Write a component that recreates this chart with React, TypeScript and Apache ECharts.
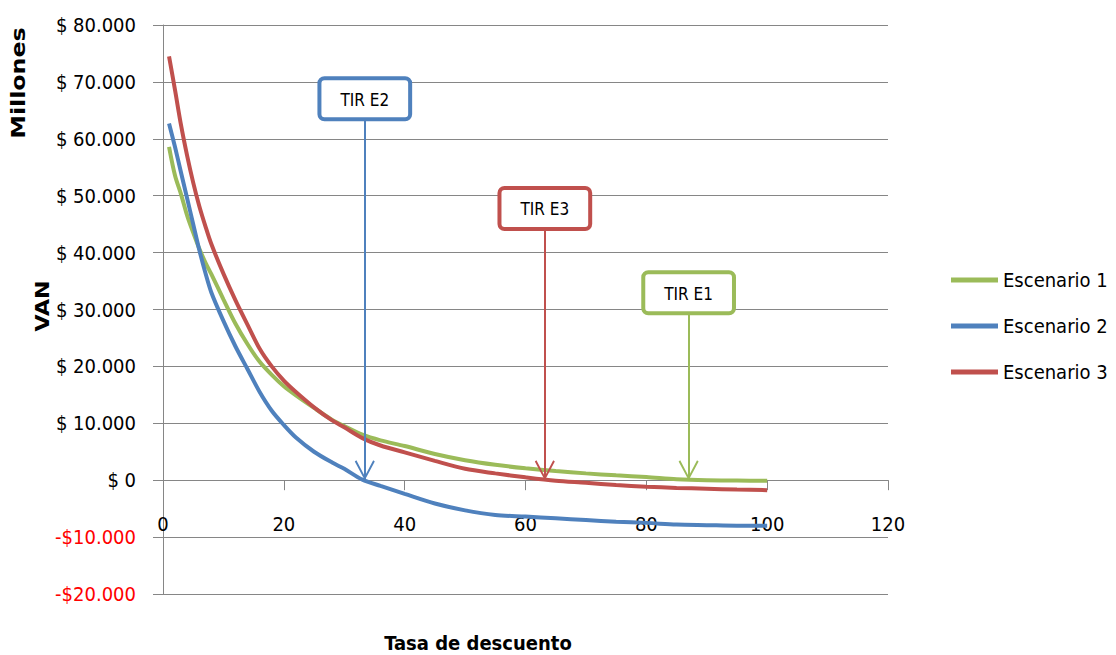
import React, { useEffect, useRef } from "react";
import * as echarts from "echarts";

const rates = [1, 2, 3, 4, 5, 6, 7, 8, 10, 12, 14, 16, 18, 20, 22, 25, 28, 30, 33, 36, 40, 45, 50, 55, 60, 65, 70, 75, 80, 85, 90, 95, 100];
const escenario1 = [58600, 53500, 50200, 46500, 43500, 40700, 38300, 36200, 31800, 27500, 23900, 20800, 18500, 16500, 14900, 12700, 10600, 9500, 8000, 7000, 6000, 4600, 3500, 2700, 2100, 1600, 1200, 850, 550, 150, -30, -70, -100];
const escenario2 = [62700, 58500, 54000, 49500, 45000, 40500, 36500, 33000, 28000, 23500, 19500, 15500, 12200, 9700, 7500, 5000, 3100, 2000, 100, -1000, -2400, -4100, -5300, -6100, -6400, -6700, -7000, -7300, -7500, -7800, -7900, -8000, -8000];
const escenario3 = [74500, 68500, 62300, 57000, 52300, 48200, 44700, 41500, 36300, 31600, 27300, 23100, 20000, 17500, 15500, 12800, 10500, 9300, 7400, 6100, 4900, 3400, 2000, 1200, 500, -100, -450, -850, -1150, -1350, -1500, -1650, -1750];

const seriesNames = ["Escenario 1", "Escenario 2", "Escenario 3"];
const seriesColors = ["#9BBB59", "#4F81BD", "#C0504D"];
const tirLabels = ["TIR E1", "TIR E2", "TIR E3"];
const tirRates = [87, 33.4, 63.2];
const tirLabelBase = [29700, 63800, 44500];

const xMin = 0, xMax = 120, xStep = 20;
const yMin = -20000, yMax = 80000, yStep = 10000;

const FONT = "'Liberation Sans Narrow', 'DejaVu Sans Condensed', 'Open Sans', sans-serif";
const BOLD = "'DejaVu Sans', 'Liberation Sans', Arial, sans-serif";
const CHEVRON = "path://M10,-16 L10,-16 Z M10,0 L20,15 L18.4,16 L10,3.2 L1.6,16 L0,15 Z";

function fmtMoney(v: number) {
  const abs = Math.abs(v).toString().replace(/\B(?=(\d{3})+(?!\d))/g, ".");
  return v < 0 ? `-$${abs}` : `$ ${abs}`;
}

export default function App() {
  const ref = useRef<HTMLDivElement>(null);
  useEffect(() => {
    if (!ref.current) return;
    const chart = echarts.init(ref.current, undefined, { renderer: "svg" });
    const all = [escenario1, escenario2, escenario3];
    chart.setOption({
      animation: false,
      backgroundColor: "#ffffff",
      grid: { left: 163, right: 228, top: 25, bottom: 61, containLabel: false },
      legend: {
        orient: "vertical",
        left: 946,
        top: 264,
        padding: 5,
        icon: "rect",
        itemWidth: 47,
        itemHeight: 5,
        itemGap: 24,
        textStyle: { fontFamily: FONT, fontSize: 20, color: "#000", lineHeight: 22 },
        data: seriesNames,
      },
      xAxis: {
        type: "value",
        min: xMin,
        max: xMax,
        interval: xStep,
        axisLine: { onZero: true, lineStyle: { color: "#868686", width: 1 } },
        axisTick: { show: true, length: 10, inside: false, lineStyle: { color: "#868686" } },
        axisLabel: { margin: -80, fontFamily: FONT, fontSize: 20, color: "#000" },
        splitLine: { show: false },
      },
      yAxis: {
        type: "value",
        min: yMin,
        max: yMax,
        interval: yStep,
        axisLine: { show: true, onZero: false, lineStyle: { color: "#868686", width: 1 } },
        axisTick: { show: true, length: 10, lineStyle: { color: "#868686" } },
        axisLabel: {
          margin: 27,
          fontFamily: FONT,
          fontSize: 20,
          formatter: (v: number) => fmtMoney(Number(v)),
          color: (v: any) => (Number(v) < 0 ? "#FF0000" : "#000000"),
        },
        splitLine: { show: true, lineStyle: { color: "#868686", width: 1 } },
      },
      series: seriesNames.map((name, i) => ({
        name,
        type: "line",
        data: rates.map((r, k) => [r, all[i][k]]),
        showSymbol: false,
        smooth: 0.3,
        color: seriesColors[i],
        lineStyle: { width: 4, color: seriesColors[i] },
        z: i === 2 ? 3 : 2,
        markLine: {
          silent: true,
          symbol: ["none", CHEVRON],
          symbolSize: [20, 40],
          lineStyle: { color: seriesColors[i], width: 2, type: "solid" },
          emphasis: { disabled: true },
          label: {
            show: true,
            position: "start",
            distance: 0,
            formatter: tirLabels[i],
            fontFamily: FONT,
            fontSize: 17,
            color: "#000",
            backgroundColor: "#fff",
            borderColor: seriesColors[i],
            borderWidth: 4,
            borderRadius: 3,
            padding: [11, 19, 9, 19],
          },
          data: [[{ coord: [tirRates[i], tirLabelBase[i]] }, { coord: [tirRates[i], 0] }]],
        },
      })),
      graphic: [
        {
          type: "text",
          x: 18,
          y: 83,
          rotation: Math.PI / 2,
          scaleX: 1.25,
          style: { text: "Millones", font: `bold 19px ${BOLD}`, fill: "#000", textAlign: "center", textVerticalAlign: "middle" },
        },
        {
          type: "text",
          x: 42,
          y: 306,
          rotation: Math.PI / 2,
          scaleX: 1.1,
          style: { text: "VAN", font: `bold 20px ${BOLD}`, fill: "#000", textAlign: "center", textVerticalAlign: "middle" },
        },
        {
          type: "text",
          x: 478,
          y: 643,
          style: { text: "Tasa de descuento", font: `bold 20px ${FONT}`, fill: "#000", textAlign: "center", textVerticalAlign: "middle" },
        },
      ],
    });
    return () => chart.dispose();
  }, []);
  return <div ref={ref} style={{ position: "fixed", left: 0, top: 0, width: 1116, height: 655, background: "#fff" }} />;
}
